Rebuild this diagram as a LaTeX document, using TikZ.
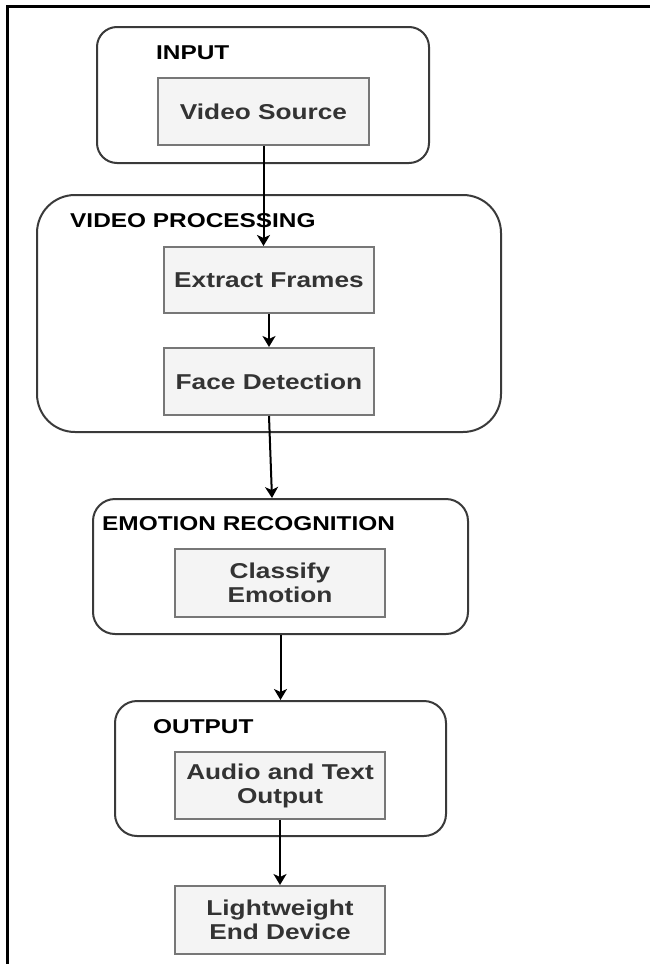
\documentclass[tikz,border=0pt]{standalone}
\usepackage{fontspec}
\setmainfont{Liberation Sans}
\newfontfamily\labfont{Liberation Sans}[FakeStretch=1.22]
\usetikzlibrary{arrows.meta}
\definecolor{grpline}{HTML}{3A3A3A}
\definecolor{boxline}{HTML}{777777}
\definecolor{boxfill}{HTML}{F4F4F4}
\definecolor{boxtext}{HTML}{333333}
\begin{document}
\begin{tikzpicture}[x=1pt,y=-1pt,
  grp/.style={draw=grpline, line width=2pt, minimum width=#1, inner sep=0pt},
  stagebox/.style={draw=boxline, fill=boxfill, line width=2pt, inner sep=0pt,
    minimum width=210pt, align=center, text=boxtext,
    font=\labfont\bfseries\fontsize{21.5}{24}\selectfont},
  grplabel/.style={anchor=west, inner sep=0pt, text=black,
    font=\labfont\bfseries\fontsize{20}{24}\selectfont},
  flow/.style={draw=black, line width=2pt, -{Stealth[length=11pt,width=13pt,inset=3pt]}}
]
\useasboundingbox (0,0) rectangle (650,964);
% page frame
\draw[line width=2.2pt] (7.5,964) -- (7.5,6.5) -- (650,6.5);

% containers
\node[grp=332pt, minimum height=136pt, rounded corners=20pt] (inp) at (263,95) {};
\node[grp=464pt, minimum height=237pt, rounded corners=38pt] (vp) at (269,313.5) {};
\node[grp=375pt, minimum height=135pt, rounded corners=22pt] (er) at (280.5,566.5) {};
\node[grp=331pt, minimum height=135pt, rounded corners=22pt] (out) at (280.5,768.5) {};

% group labels
\node[grplabel] (inpl) at (156,53) {INPUT};
\node[grplabel] (vpl) at (70,221) {VIDEO PROCESSING};
\node[grplabel] (erl) at (102,524) {EMOTION RECOGNITION};
\node[grplabel] (outl) at (153,727) {OUTPUT};

% stage boxes
\node[stagebox, minimum width=211pt, minimum height=67pt] (vs) at (263.5,111.5) {Video Source};
\node[stagebox, minimum height=66pt] (ef) at (269,280) {Extract Frames};
\node[stagebox, minimum height=67pt] (fd) at (269,381.5) {Face Detection};
\node[stagebox, minimum height=68pt] (ce) at (280,583) {Classify\\Emotion};
\node[stagebox, minimum height=67pt] (at) at (280,785.5) {Audio and Text\\Output};
\node[stagebox, minimum height=68pt] (ld) at (280,920) {Lightweight\\End Device};

% connectors
\draw[flow] (vs.south) -- (vs.south |- ef.north);
\draw[flow] (ef.south) -- (fd.north);
\draw[flow] (fd.south) -- ([xshift=3pt]fd.south |- er.north);
\draw[flow] (er.south) -- (out.north);
\draw[flow] (at.south) -- (ld.north);
\end{tikzpicture}
\end{document}
